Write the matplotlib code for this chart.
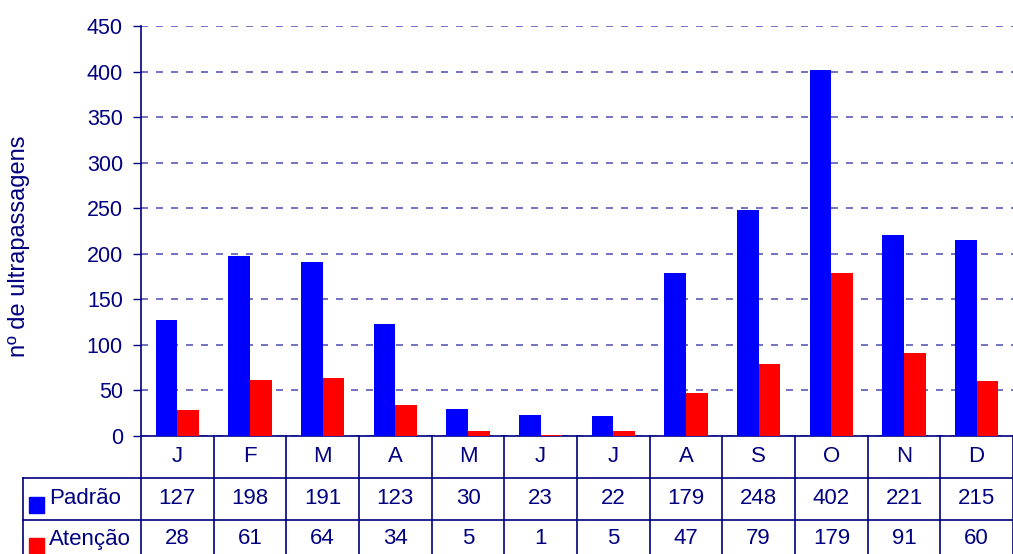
import matplotlib
matplotlib.use("Agg")
import matplotlib.pyplot as plt
import numpy as np
from matplotlib.transforms import blended_transform_factory
from matplotlib.lines import Line2D
from matplotlib.patches import Rectangle

months = ["J", "F", "M", "A", "M", "J", "J", "A", "S", "O", "N", "D"]
padrao = [127, 198, 191, 123, 30, 23, 22, 179, 248, 402, 221, 215]
atencao = [28, 61, 64, 34, 5, 1, 5, 47, 79, 179, 91, 60]
series_names = ["Padrão", "Atenção"]
yticks = [0, 50, 100, 150, 200, 250, 300, 350, 400, 450]

plt.rcParams['font.family'] = ['Liberation Sans', 'DejaVu Sans']
NAVY = "#000080"
W, H = 1013, 554

fig = plt.figure(figsize=(W / 100, H / 100), dpi=100)
ax = fig.add_axes([141 / W, (H - 436) / H, 872 / W, 410 / H])

x = np.arange(len(months))
bw = 0.30
ax.bar(x - bw / 2, padrao, width=bw, color="#0000FF", zorder=3)
ax.bar(x + bw / 2, atencao, width=bw, color="#FF0000", zorder=3)

ax.set_xlim(-0.5, len(months) - 0.5)
ax.set_ylim(0, 450)
ax.set_yticks(yticks)
ax.tick_params(axis='y', colors=NAVY, labelsize=15.5, length=6, width=1, pad=7)
ax.set_xticks([])
for s in ["top", "right"]:
    ax.spines[s].set_visible(False)
for s in ["left", "bottom"]:
    ax.spines[s].set_color(NAVY)
    ax.spines[s].set_linewidth(1.2)
ax.yaxis.grid(True, linestyle=(0, (4.2, 4.8)), color="#5a5ab8", linewidth=1.2, zorder=0)
ax.set_axisbelow(True)

fig.text(19 / W, 1 - 246 / H, "nº de ultrapassagens", rotation=90, color=NAVY,
         fontsize=17, ha="center", va="center")

# table drawn below the axes
tr = blended_transform_factory(ax.transData, fig.transFigure)
ftr = fig.transFigure

def fy(py):
    return 1 - py / H

# horizontal lines
fig.add_artist(Line2D([23 / W, 1], [fy(478), fy(478)], color=NAVY, lw=1.2, transform=ftr))
fig.add_artist(Line2D([23 / W, 1], [fy(520), fy(520)], color=NAVY, lw=1.2, transform=ftr))
# vertical lines
fig.add_artist(Line2D([23 / W, 23 / W], [fy(478), 0], color=NAVY, lw=1.2, transform=ftr))
for b in np.arange(len(months) + 1) - 0.5:
    fig.add_artist(Line2D([b, b], [fy(436), 0], color=NAVY, lw=1.2, transform=tr, clip_on=False))

fs = 16
for i, m in enumerate(months):
    ax.text(i, fy(457), m, transform=tr, ha="center", va="center", color=NAVY, fontsize=fs, clip_on=False)
    ax.text(i, fy(499), str(padrao[i]), transform=tr, ha="center", va="center", color=NAVY, fontsize=fs, clip_on=False)
    ax.text(i, fy(539), str(atencao[i]), transform=tr, ha="center", va="center", color=NAVY, fontsize=fs, clip_on=False)

# legend keys in row headers
fig.add_artist(Rectangle((29 / W, fy(513)), 15 / W, 16 / H, color="#0000FF", transform=ftr))
fig.add_artist(Rectangle((29 / W, fy(554)), 15 / W, 16 / H, color="#FF0000", transform=ftr))
fig.text(49 / W, fy(499), series_names[0], ha="left", va="center", color=NAVY, fontsize=fs)
fig.text(49 / W, fy(539), series_names[1], ha="left", va="center", color=NAVY, fontsize=fs)

fig.savefig("out.png", dpi=100)
